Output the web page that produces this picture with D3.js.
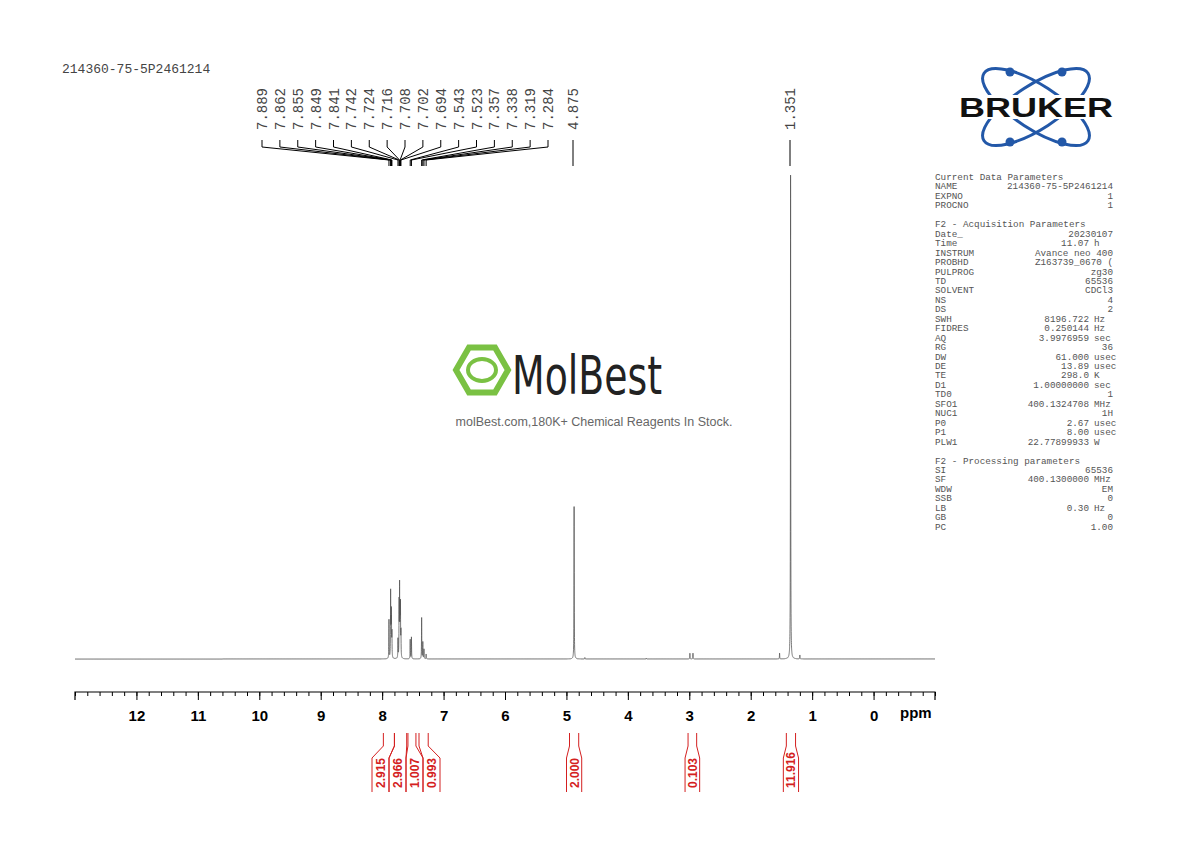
<!DOCTYPE html><html><head><meta charset="utf-8">
<script src="https://cdn.jsdelivr.net/npm/d3@7"></script>
<style>body{margin:0;background:#fff}svg{display:block}</style></head><body>
<svg id="c" width="1190" height="842"></svg>
<script>
const title="214360-75-5P2461214";
const peakLabels=["7.889","7.862","7.855","7.849","7.841","7.742","7.724","7.716","7.708","7.702","7.694","7.543","7.523","7.357","7.338","7.319","7.284","4.875","1.351"];
const peakPpm=[7.889,7.862,7.855,7.849,7.841,7.742,7.724,7.716,7.708,7.702,7.694,7.543,7.523,7.357,7.338,7.319,7.284,4.875,1.351,2.99,2.94,1.53,1.20,4.70,3.7];
const peakH  =[0.08,0.135,0.06,0.09,0.05,0.04,0.11,0.14,0.09,0.10,0.05,0.04,0.045,0.085,0.035,0.02,0.01,0.315,1.0,0.012,0.012,0.012,0.008,0.003,0.002];
const axisTicks=[12,11,10,9,8,7,6,5,4,3,2,1,0];
const integralValues=["2.915","2.966","1.007","0.993","2.000","0.103","11.916"];
const integralFrom=[7.98,7.80,7.58,7.40,4.95,3.02,1.42];
const integralTo  =[7.80,7.60,7.45,7.25,4.80,2.88,1.27];
const params=[["Current Data Parameters",""],["NAME","214360-75-5P2461214"],["EXPNO","1"],["PROCNO","1"],["",""],
["F2 - Acquisition Parameters",""],["Date_","20230107"],["Time","11.07 h"],["INSTRUM","Avance neo 400"],["PROBHD","Z163739_0670 ("],["PULPROG","zg30"],["TD","65536"],["SOLVENT","CDCl3"],["NS","4"],["DS","2"],["SWH","8196.722 Hz"],["FIDRES","0.250144 Hz"],["AQ","3.9976959 sec"],["RG","36"],["DW","61.000 usec"],["DE","13.89 usec"],["TE","298.0 K"],["D1","1.00000000 sec"],["TD0","1"],["SFO1","400.1324708 MHz"],["NUC1","1H"],["P0","2.67 usec"],["P1","8.00 usec"],["PLW1","22.77899933 W"],["",""],
["F2 - Processing parameters",""],["SI","65536"],["SF","400.1300000 MHz"],["WDW","EM"],["SSB","0"],["LB","0.30 Hz"],["GB","0"],["PC","1.00"]];

const svg=d3.select("#c");
const x=d3.scaleLinear().domain([13,-1]).range([75,935]);
const y=d3.scaleLinear().domain([0,1]).range([659,172]);
const mono="'Liberation Mono','DejaVu Sans Mono',monospace";

svg.append("text").attr("x",62).attr("y",73).attr("font-family",mono).attr("font-size",13).attr("fill","#444").text(title);

const w=0.0025;
const pts=[];
d3.range(13,-1.0001,-0.0008).forEach(p=>{let s=0;peakPpm.forEach((c,i)=>{const d=(p-c)/w;s+=peakH[i]/(1+d*d);});pts.push([p,s]);});
svg.append("path").attr("d",d3.line().x(d=>x(d[0])).y(d=>y(d[1]))(pts)).attr("fill","none").attr("stroke","#555").attr("stroke-width",0.8);

svg.append("g").attr("transform","translate(0,692)").call(d3.axisBottom(x).tickValues(d3.range(13,-1.01,-0.2)).tickSize(4).tickFormat("")).call(g=>g.select(".domain").remove());
const axg=svg.append("g").attr("transform","translate(0,692)").call(d3.axisBottom(x).tickValues(axisTicks).tickSize(8).tickFormat(d3.format("d")));
axg.select("path.domain").attr("d","M75,8V0H935V8").attr("stroke","#000").attr("stroke-width",1.2);
axg.selectAll("text").attr("font-family","Arial,'Liberation Sans',sans-serif").attr("font-weight","bold").attr("font-size",15).attr("dy","1.2em").attr("fill","#000");
svg.append("text").attr("x",900).attr("y",718).attr("font-family","Arial,'Liberation Sans',sans-serif").attr("font-weight","bold").attr("font-size",15).text("ppm");

const labelX=peakLabels.map((l,i)=> i<17 ? 262+i*(548-262)/16 : (i==17?573:790));
peakLabels.forEach((l,i)=>{
  const lx=labelX[i], px=x(+l);
  svg.append("text").attr("transform",`translate(${lx+5},88) rotate(-90)`).attr("text-anchor","end")
    .attr("font-family",mono).attr("font-size",14).attr("fill","#444").text(l);
  const d = i<17 ? `M${lx},140V147L${px},160V166` : `M${lx},140V166`;
  svg.append("path").attr("d",d).attr("fill","none").attr("stroke","#000").attr("stroke-width",1);
});

// integrals: aromatic group bottoms spread evenly
const red="#d42020";
const bottomX=integralValues.map((v,i)=>{
  if(i<4){const L=372,W=17;return [L+i*W,L+(i+1)*W];}
  return [x(integralFrom[i])-3,x(integralTo[i])+3];
});
integralValues.forEach((v,i)=>{
  const ta=x(integralFrom[i]),tb=x(integralTo[i]);
  const [ba,bb]=bottomX[i];
  const g=svg.append("g").attr("stroke",red).attr("fill","none").attr("stroke-width",1);
  g.append("path").attr("d",`M${ta},733V746L${ba},758V792`);
  g.append("path").attr("d",`M${tb},733V746L${bb},758V792`);
  svg.append("text").attr("transform",`translate(${(ba+bb)/2+4.5},788) rotate(-90)`)
    .attr("font-family","Arial,'Liberation Sans',sans-serif").attr("font-weight","bold").attr("font-size",12).attr("fill",red).text(v);
});

const pg=svg.append("g").attr("font-family",mono).attr("font-size",9.3).attr("fill","#555");
params.forEach(([k,v],i)=>{
  const yy=180+i*9.45;
  pg.append("text").attr("x",935).attr("y",yy).text(k);
  if(v){const parts=v.match(/^(.*?)( (Hz|sec|usec|K|MHz|W|h))?$/);
    if(parts[3]){pg.append("text").attr("x",1089).attr("y",yy).attr("text-anchor","end").text(parts[1]);pg.append("text").attr("x",1094).attr("y",yy).text(parts[3]);}
    else pg.append("text").attr("x",1113).attr("y",yy).attr("text-anchor","end").text(v);}
});

const lg=svg.append("g").attr("transform","translate(1036,107)");
const blue="#2358a8";
lg.append("ellipse").attr("rx",62).attr("ry",22).attr("transform","rotate(33)").attr("fill","none").attr("stroke",blue).attr("stroke-width",3);
lg.append("ellipse").attr("rx",62).attr("ry",22).attr("transform","rotate(-33)").attr("fill","none").attr("stroke",blue).attr("stroke-width",3);
lg.append("rect").attr("x",-79).attr("y",-12).attr("width",158).attr("height",24).attr("fill","#fff");
lg.append("text").attr("y",10).attr("text-anchor","middle").attr("font-family","Arial,'Liberation Sans',sans-serif").attr("font-weight","900").attr("font-size",27).attr("fill","#111").attr("textLength",154).attr("lengthAdjust","spacingAndGlyphs").text("BRUKER");
[[-26,-35],[26,35],[-26,35],[26,-35]].forEach(([a,b])=>lg.append("circle").attr("cx",a).attr("cy",b).attr("r",4.5).attr("fill",blue));

const mg=svg.append("g").attr("transform","translate(482,370)");
mg.append("path").attr("d",d3.range(7).map(i=>{const a=Math.PI/3*i;return (i?"L":"M")+(26*Math.cos(a))+","+(26*Math.sin(a));}).join("")+"Z").attr("fill","none").attr("stroke","#7ac143").attr("stroke-width",6);
mg.append("ellipse").attr("rx",14).attr("ry",11).attr("fill","none").attr("stroke","#7ac143").attr("stroke-width",4);
mg.append("text").attr("x",30).attr("y",24).attr("font-family","'DejaVu Sans Condensed','Liberation Sans Narrow',sans-serif").attr("font-size",54).attr("fill","#222").attr("textLength",150).attr("lengthAdjust","spacingAndGlyphs").text("MolBest");
svg.append("text").attr("x",594).attr("y",426).attr("text-anchor","middle").attr("font-family","Arial,'Liberation Sans',sans-serif").attr("font-size",12.5).attr("fill","#666").text("molBest.com,180K+ Chemical Reagents In Stock.");
</script></body></html>
